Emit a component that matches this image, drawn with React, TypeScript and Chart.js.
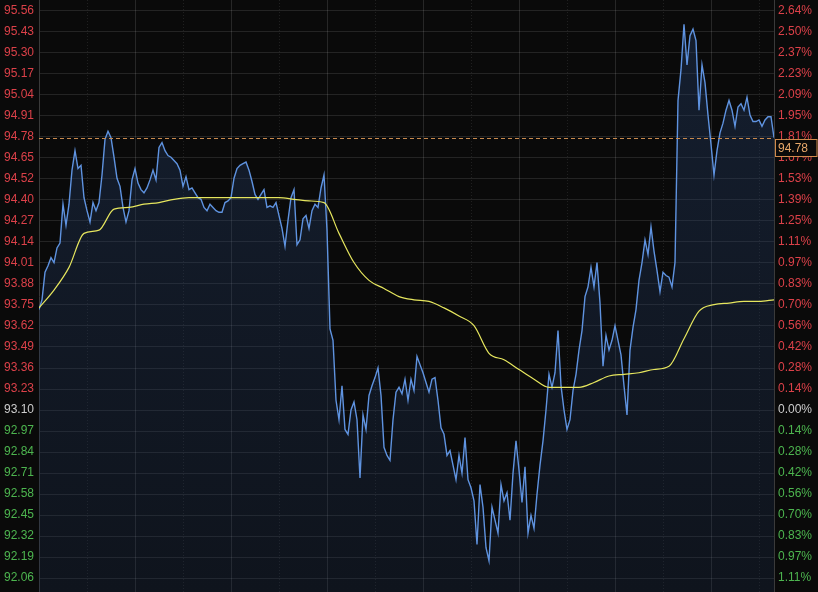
import React, { useEffect, useRef } from "react";
import { Chart, registerables } from "chart.js";

Chart.register(...registerables);

// ---- data ----
const PREV_CLOSE = 93.1;
const TICK_STEP = 0.1296;
const Y_MIN = 91.977;
const Y_MAX = 95.63;

// tick labels, bottom to top
const priceTickLabels = [
  "92.06", "92.19", "92.32", "92.45", "92.58", "92.71", "92.84", "92.97",
  "93.10",
  "93.23", "93.36", "93.49", "93.62", "93.75", "93.88", "94.01", "94.14",
  "94.27", "94.40", "94.52", "94.65", "94.78", "94.91", "95.04", "95.17",
  "95.30", "95.43", "95.56",
];
const pctTickLabels = [
  "1.11%", "0.97%", "0.83%", "0.70%", "0.56%", "0.42%", "0.28%", "0.14%",
  "0.00%",
  "0.14%", "0.28%", "0.42%", "0.56%", "0.70%", "0.83%", "0.97%", "1.11%",
  "1.25%", "1.39%", "1.53%", "1.67%", "1.81%", "1.95%", "2.09%", "2.23%",
  "2.37%", "2.50%", "2.64%",
];
const ZERO_IDX = priceTickLabels.indexOf("93.10");

// minute-by-minute price (one value per time slot)
const priceSeries = [
  93.72, 93.78, 93.95, 93.99, 94.04, 94.01, 94.10, 94.13, 94.37, 94.24,
  94.37, 94.58, 94.70, 94.59, 94.61, 94.41, 94.33, 94.26, 94.38, 94.33,
  94.38, 94.55, 94.77, 94.82, 94.78, 94.66, 94.53, 94.48, 94.35, 94.26,
  94.33, 94.52, 94.59, 94.50, 94.46, 94.44, 94.47, 94.52, 94.58, 94.52,
  94.72, 94.75, 94.70, 94.67, 94.66, 94.64, 94.62, 94.58, 94.48, 94.54,
  94.46, 94.47, 94.44, 94.41, 94.40, 94.35, 94.33, 94.37, 94.35, 94.33,
  94.32, 94.32, 94.38, 94.39, 94.41, 94.53, 94.59, 94.61, 94.62, 94.63,
  94.58, 94.51, 94.43, 94.40, 94.43, 94.46, 94.35, 94.36, 94.35, 94.38,
  94.30, 94.22, 94.11, 94.27, 94.41, 94.46, 94.12, 94.15, 94.28, 94.30,
  94.22, 94.33, 94.37, 94.35, 94.47, 94.55, 94.21, 93.60, 93.53, 93.16,
  93.04, 93.25, 92.98, 92.95, 93.10, 93.15, 93.04, 92.68, 93.07, 92.98,
  93.19, 93.25, 93.30, 93.36, 93.19, 92.87, 92.82, 92.79, 93.04, 93.21,
  93.24, 93.20, 93.29, 93.16, 93.29, 93.22, 93.43, 93.38, 93.33, 93.27,
  93.21, 93.29, 93.30, 93.16, 92.99, 92.95, 92.82, 92.85, 92.76, 92.67,
  92.82, 92.71, 92.93, 92.67, 92.62, 92.54, 92.27, 92.64, 92.50, 92.25,
  92.17, 92.50, 92.42, 92.34, 92.64, 92.54, 92.59, 92.42, 92.71, 92.91,
  92.73, 92.53, 92.75, 92.34, 92.45, 92.37, 92.58, 92.76, 92.91, 93.10,
  93.32, 93.24, 93.33, 93.59, 93.25, 93.10, 92.98, 93.04, 93.22, 93.32,
  93.47, 93.59, 93.80, 93.86, 93.98, 93.86, 94.01, 93.76, 93.37, 93.56,
  93.47, 93.53, 93.62, 93.53, 93.44, 93.25, 93.07, 93.47, 93.61, 93.72,
  93.90, 94.01, 94.15, 94.06, 94.23, 94.08, 93.96, 93.83, 93.95, 93.93,
  93.92, 93.86, 94.01, 95.01, 95.20, 95.48, 95.23, 95.41, 95.45, 95.38,
  94.95, 95.23, 95.12, 94.92, 94.74, 94.55, 94.70, 94.81, 94.87, 94.95,
  95.01, 94.95, 94.85, 94.97, 94.99, 94.95, 95.03, 94.92, 94.88, 94.88,
  94.89, 94.85, 94.89, 94.91, 94.91, 94.78,
];

// average price, one value every AVG_EVERY time slots
const AVG_EVERY = 5;
const avgSeries = [
  93.73, 93.84, 93.98, 94.19, 94.21, 94.34, 94.35, 94.37, 94.38, 94.40,
  94.41, 94.41, 94.41, 94.41, 94.41, 94.41, 94.41, 94.40, 94.39, 94.38,
  94.19, 94.01, 93.90, 93.85, 93.80, 93.78, 93.77, 93.73, 93.68, 93.62,
  93.45, 93.41, 93.35, 93.29, 93.24, 93.24, 93.24, 93.27, 93.31, 93.32,
  93.33, 93.35, 93.37, 93.54, 93.71, 93.75, 93.76, 93.77, 93.77, 93.78,
];

// time-slot gridlines
const solidTimeTicks = [32, 64, 96, 128, 160, 192, 224];
const dottedTimeTicks = [16, 48, 80, 112, 144, 176, 208, 240];

const FONT = '"Liberation Sans", Arial, sans-serif';
const RED = "#dc4149";
const GREEN = "#4db54f";
const NEUTRAL = "#cccccc";

const tickColor = (i: number) => (i > ZERO_IDX ? RED : i < ZERO_IDX ? GREEN : NEUTRAL);
const buildTicks = (s: any) => {
  s.ticks = priceTickLabels.map((_, i) => ({ value: PREV_CLOSE + (i - ZERO_IDX) * TICK_STEP }));
};

const decorPlugin = {
  id: "decor",
  beforeDraw(chart: any) {
    const c = chart.ctx;
    c.save();
    c.fillStyle = "#0a0a0a";
    c.fillRect(0, 0, chart.width, chart.height);
    c.restore();
  },
  beforeDatasetsDraw(chart: any) {
    const { ctx, chartArea, scales } = chart;
    const x = scales.x;
    ctx.save();
    ctx.lineWidth = 1;
    ctx.strokeStyle = "rgba(255,255,255,0.12)";
    solidTimeTicks.forEach((v) => {
      const px = Math.round(x.getPixelForValue(v)) + 0.5;
      ctx.beginPath();
      ctx.moveTo(px, chartArea.top);
      ctx.lineTo(px, chartArea.bottom);
      ctx.stroke();
    });
    ctx.setLineDash([1, 2]);
    ctx.strokeStyle = "rgba(255,255,255,0.09)";
    dottedTimeTicks.forEach((v) => {
      const px = Math.round(x.getPixelForValue(v)) + 0.5;
      ctx.beginPath();
      ctx.moveTo(px, chartArea.top);
      ctx.lineTo(px, chartArea.bottom);
      ctx.stroke();
    });
    ctx.restore();
  },
  afterDatasetsDraw(chart: any) {
    const { ctx, chartArea, scales } = chart;
    const last = priceSeries[priceSeries.length - 1];
    const py = Math.round(scales.y.getPixelForValue(last)) + 0.5;
    ctx.save();
    ctx.strokeStyle = "#c98a4e";
    ctx.lineWidth = 1;
    ctx.setLineDash([4, 3]);
    ctx.beginPath();
    ctx.moveTo(chartArea.left, py);
    ctx.lineTo(chartArea.right, py);
    ctx.stroke();
    ctx.setLineDash([]);
    // price box
    const bx = chartArea.right + 1.5;
    const bw = chart.width - bx - 1;
    const by = py + 1;
    const bh = 17;
    ctx.fillStyle = "#0a0a0a";
    ctx.fillRect(bx, by, bw, bh);
    ctx.strokeStyle = "#d08a4c";
    ctx.strokeRect(bx, by, bw, bh);
    ctx.fillStyle = "#e8a86a";
    ctx.font = `12px ${FONT}`;
    ctx.textBaseline = "middle";
    ctx.textAlign = "left";
    ctx.fillText(last.toFixed(2), bx + 2.5, by + bh / 2 + 0.5);
    ctx.restore();
  },
};

export default function App() {
  const ref = useRef<HTMLCanvasElement | null>(null);

  useEffect(() => {
    if (!ref.current) return;
    const chart = new Chart(ref.current, {
      type: "line",
      data: {
        datasets: [
          {
            label: "avg",
            data: avgSeries.map((v, k) => ({ x: k * AVG_EVERY, y: v })),
            borderColor: "#e6e65e",
            borderWidth: 1.2,
            pointRadius: 0,
            fill: false,
            cubicInterpolationMode: "monotone",
            order: 0,
          },
          {
            label: "price",
            data: priceSeries.map((v, i) => ({ x: i, y: v })),
            borderColor: "#5f93e0",
            borderWidth: 1.4,
            pointRadius: 0,
            fill: "start",
            order: 1,
            backgroundColor: (ctx: any) => {
              const area = ctx.chart.chartArea;
              if (!area) return "rgba(36,60,100,0.3)";
              const g = ctx.chart.ctx.createLinearGradient(0, area.top, 0, area.bottom);
              g.addColorStop(0, "rgba(40,68,115,0.36)");
              g.addColorStop(1, "rgba(28,46,78,0.28)");
              return g;
            },
          },
        ],
      },
      options: {
        animation: false,
        responsive: false,
        devicePixelRatio: 1,
        layout: { padding: { left: 4, right: 0, top: 0, bottom: 0 } },
        plugins: { legend: { display: false }, tooltip: { enabled: false } },
        scales: {
          x: { type: "linear", min: 0, max: priceSeries.length - 1, display: false },
          y: {
            position: "left",
            min: Y_MIN,
            max: Y_MAX,
            afterBuildTicks: buildTicks,
            afterFit: (s: any) => {
              s.width = 35;
              s.paddingTop = 0;
              s.paddingBottom = 0;
            },
            ticks: {
              autoSkip: false,
              crossAlign: "far",
              padding: 0,
              font: { family: FONT, size: 12 },
              color: (ctx: any) => tickColor(ctx.index),
              callback: (_v: any, i: number) => priceTickLabels[i],
            },
            grid: { color: "rgba(255,255,255,0.11)", drawTicks: false, lineWidth: 1 },
            border: { color: "#3a3a3a" },
          },
          y2: {
            position: "right",
            min: Y_MIN,
            max: Y_MAX,
            afterBuildTicks: buildTicks,
            afterFit: (s: any) => {
              s.width = 44;
              s.paddingTop = 0;
              s.paddingBottom = 0;
            },
            ticks: {
              autoSkip: false,
              padding: 4,
              font: { family: FONT, size: 12 },
              color: (ctx: any) => tickColor(ctx.index),
              callback: (_v: any, i: number) => pctTickLabels[i],
            },
            grid: { drawOnChartArea: false, drawTicks: false },
            border: { color: "#3a3a3a" },
          },
        },
      },
      plugins: [decorPlugin],
    } as any);
    return () => chart.destroy();
  }, []);

  return (
    <div style={{ position: "fixed", left: 0, top: 0, width: 818, height: 592, background: "#0a0a0a" }}>
      <canvas ref={ref} width={818} height={592} style={{ display: "block" }} />
    </div>
  );
}
